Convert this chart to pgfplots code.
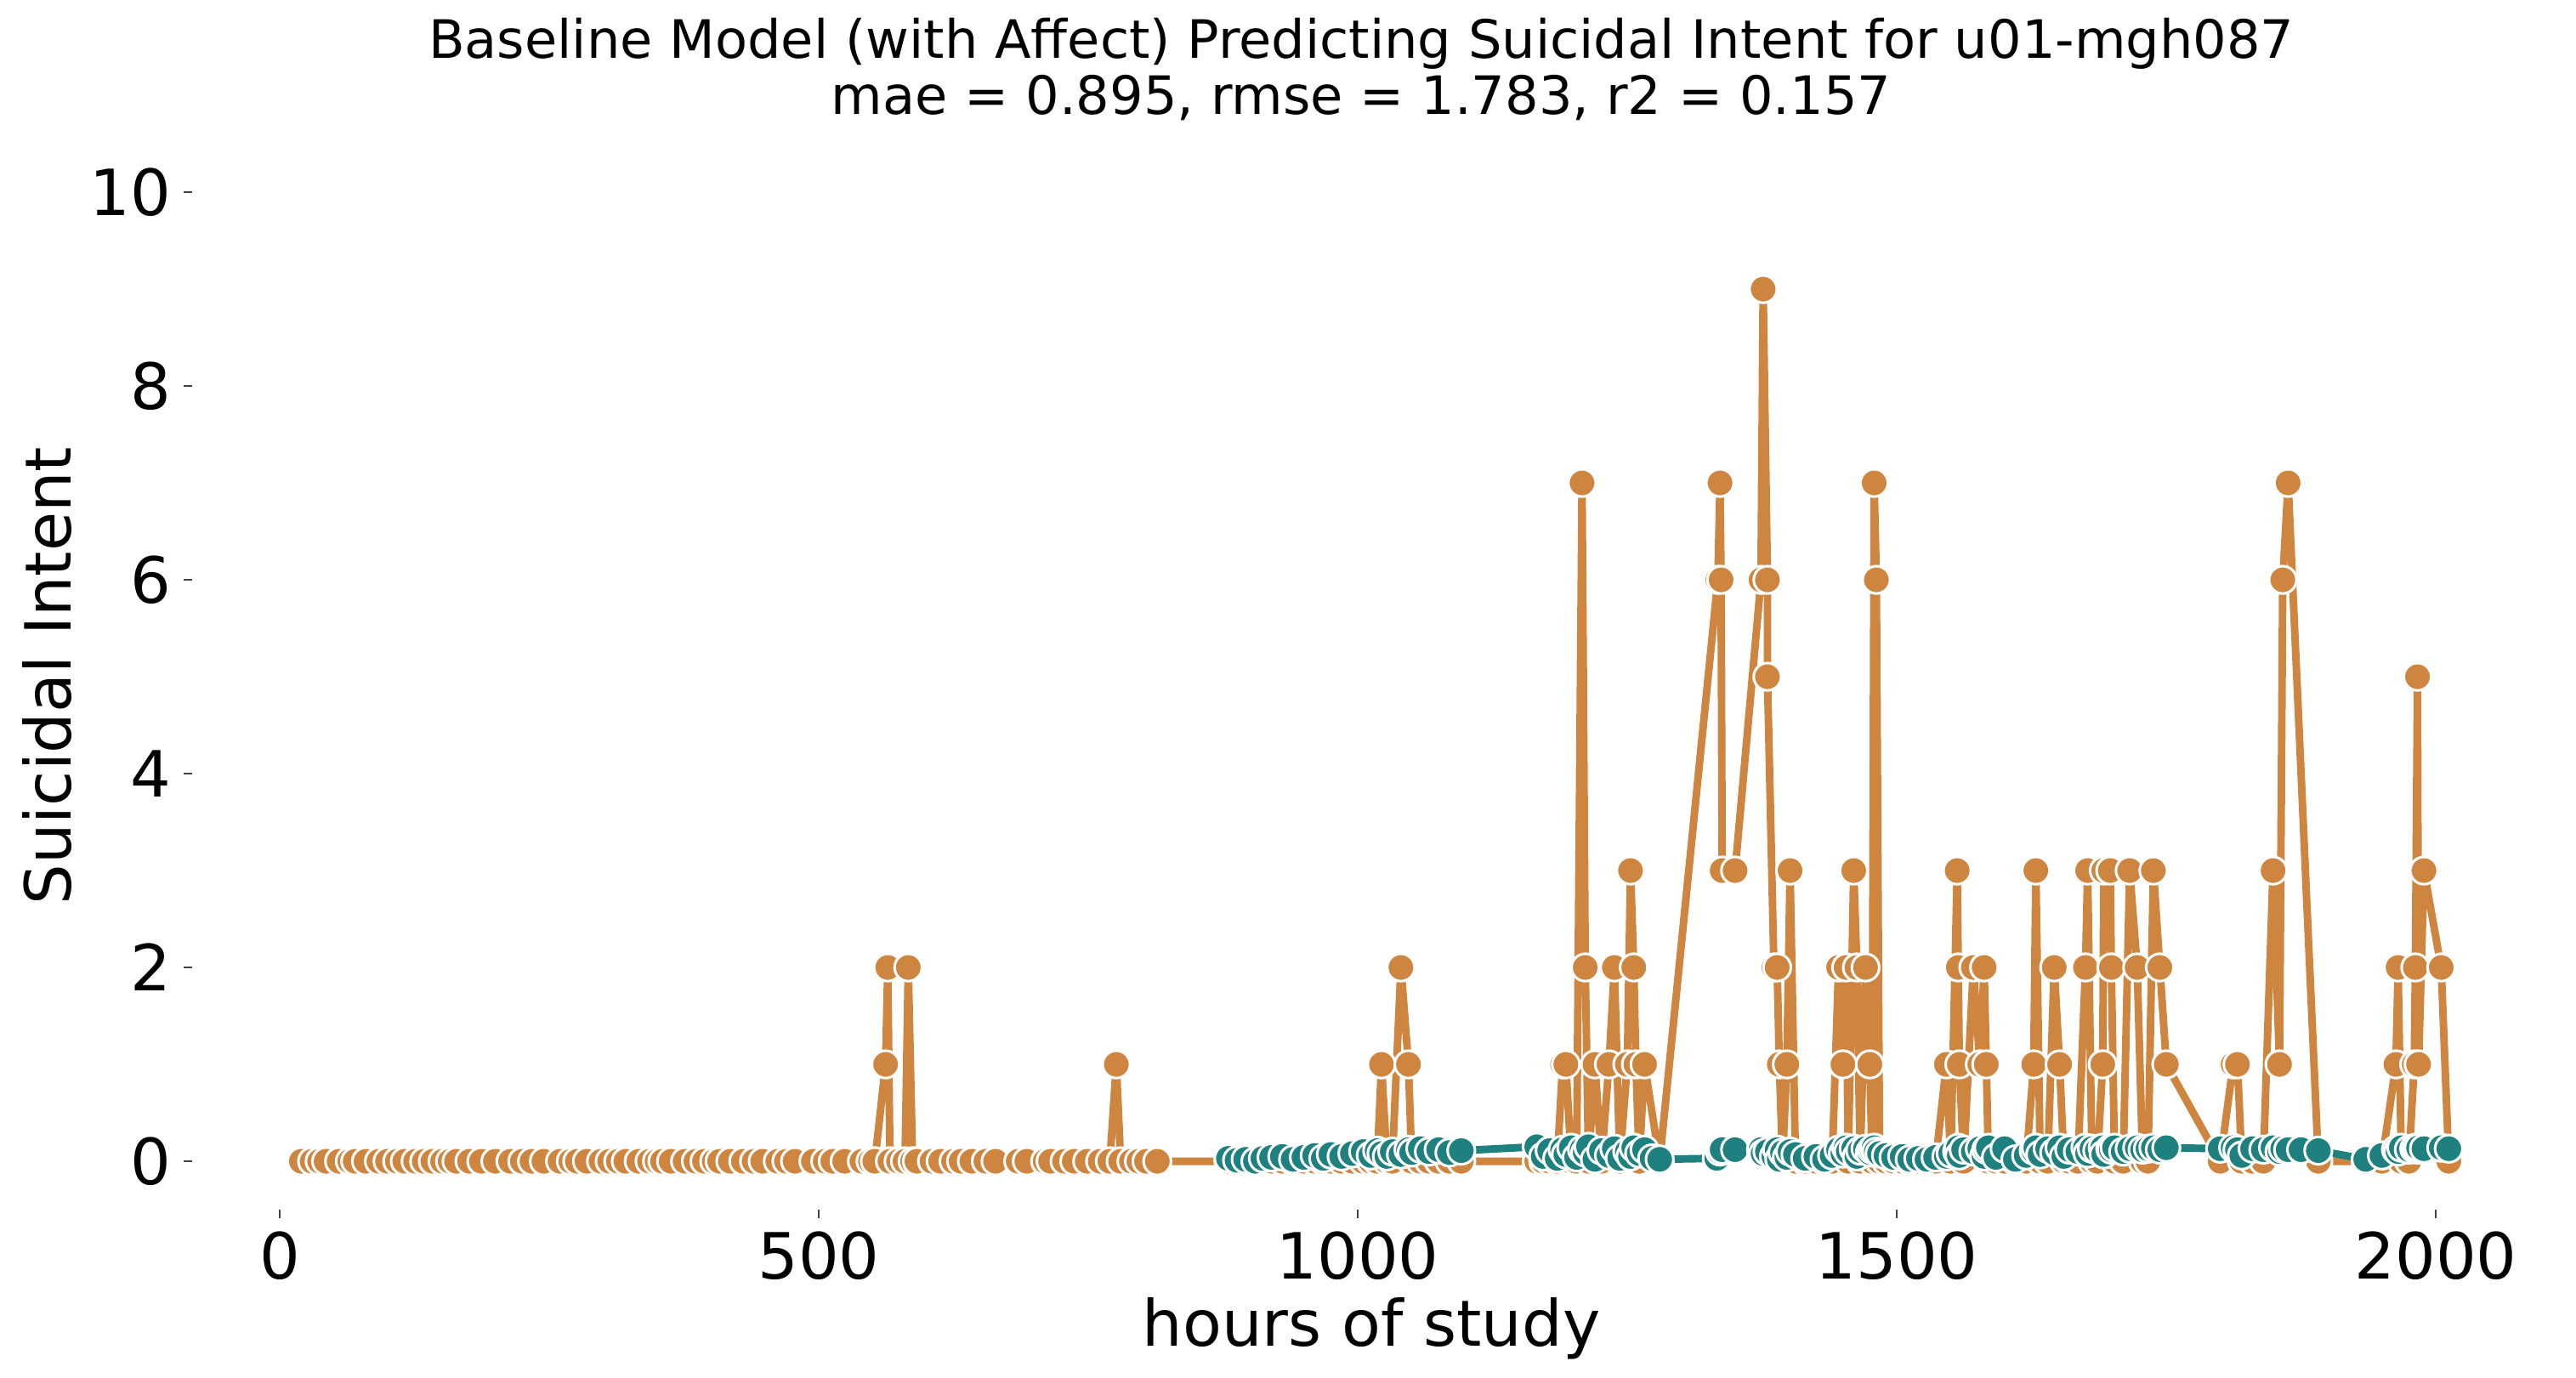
\documentclass[border=0pt]{standalone}
\usepackage{pgfplots}
\pgfplotsset{compat=1.18}
\usepackage{fontspec}
\setmainfont{DejaVu Sans}
\definecolor{actc}{RGB}{205,133,63}
\definecolor{predc}{RGB}{31,128,128}
\begin{document}
\begin{tikzpicture}
\path[use as bounding box] (0,0) rectangle (1090.8pt,583.2pt);
\begin{axis}[
  at={(81.4pt,70.9pt)}, anchor=south west,
  scale only axis, width=1000.8pt, height=430.9pt,
  xmin=-81.2, xmax=2111.2, ymin=-0.5, ymax=10,
  axis x line*=bottom, axis y line*=left,
  axis line style={draw=none},
  xtick={0,500,1000,1500,2000}, ytick={0,2,4,6,8,10},
  tick align=outside, major tick length=3.6pt,
  every tick/.style={draw=black!75, line width=0.5pt},
  tick label style={font=\fontsize{27}{32}\selectfont},
  /pgf/number format/assume math mode=true,
  /pgf/number format/set thousands separator={},
  xticklabel style={yshift=-2pt},
  yticklabel style={xshift=-2pt},
  clip=false,
]
\addplot[actc, line width=3.2pt, line join=round, mark=*, mark size=5.8pt,
  mark options={fill=actc, draw=white, line width=1.1pt}] coordinates {
(20,0)(30,0)(37,0)(43,0)(55,0)(65,0)(70,0)(80,0)(92,0)(100,0)(109,0)(116,0)(126,0)(134,0)(142,0)(151,0)(158,0)(164,0)(176,0)(187,0)(200,0)(214,0)(225,0)(234,0)(245,0)(260,0)(270,0)(276,0)(285,0)(298,0)(306,0)(314,0)(321,0)(333,0)(343,0)(350,0)(355,0)(363,0)(376,0)(386,0)(394,0)(403,0)(408,0)(418,0)(430,0)(440,0)(448,0)(462,0)(470,0)(478,0)(495,0)(506,0)(513,0)(524,0)(540,0)(548,0)(552,0)(562,1)(564,2)(566,0)(574,0)(580,0)(583,2)(587,0)(591,0)(605,0)(613,0)(625,0)(632,0)(642,0)(655,0)(664,0)(685,0)(693,0)(710,0)(715,0)(728,0)(737,0)(749,0)(761,0)(770,0)(776,1)(780,0)(790,0)(797,0)(804,0)(814,0)
(880,0)(888,0)(896,0)(905,0)(912,0)(920,0)(930,0)(940,0)(950,0)(960,0)(968,0)(975,0)(985,0)(995,0)(1005,0)(1012,0)(1018,0)(1022,1)(1027,0)(1032,0)(1040,2)(1047,1)(1050,0)(1058,0)(1066,0)(1075,0)(1085,0)(1096,0)(1166,0)(1172,0)(1178,0)(1185,0)(1190,1)(1193,1)(1198,0)(1203,0)(1208,7)(1211,2)(1214,0)(1220,1)(1226,0)(1233,1)(1238,2)(1243,0)(1250,1)(1253,3)(1256,2)(1258,1)(1261,0)(1266,1)(1280,0)(1334,6)(1336,7)(1337,6)(1338,3)(1350,3)(1374,6)(1376,9)(1380,6)(1380,5)(1386,2)(1389,2)(1391,1)(1394,0)(1398,1)(1401,3)(1406,0)(1415,0)(1425,0)(1433,0)(1440,0)(1446,2)(1450,1)(1453,2)(1455,0)(1460,3)(1463,2)(1466,0)(1471,2)(1475,1)(1477,0)(1479,7)(1481,6)(1484,0)(1490,0)(1497,0)(1505,0)(1512,0)(1520,0)(1528,0)(1536,0)(1546,1)(1550,0)(1556,3)(1557,2)(1558,1)(1562,0)(1571,2)(1577,1)(1581,2)(1583,1)(1585,0)(1592,0)(1600,0)(1610,0)(1620,0)(1627,1)(1629,3)(1633,0)(1640,0)(1646,2)(1651,1)(1655,0)(1660,0)(1668,0)(1675,2)(1677,3)(1681,0)(1686,0)(1691,1)(1692,3)(1698,3)(1699,2)(1702,0)(1710,0)(1716,3)(1723,2)(1728,0)(1733,0)(1738,3)(1744,2)(1750,1)(1800,0)(1812,1)(1816,1)(1820,0)(1830,0)(1840,0)(1849,3)(1855,1)(1858,6)(1863,7)(1891,0)(1935,0)(1950,0)(1963,1)(1965,2)(1968,0)(1975,0)(1980,1)(1981,2)(1983,5)(1984,1)(1989,3)(2005,2)(2012,0)
};
\addplot[predc, line width=3.2pt, line join=round, mark=*, mark size=5.8pt,
  mark options={fill=predc, draw=white, line width=1.1pt}] coordinates {
(880,0.03)(888,0.01)(896,0.02)(905,0.0)(912,0.03)(920,0.04)(930,0.05)(940,0.02)(950,0.04)(960,0.06)(968,0.03)(975,0.07)(985,0.05)(995,0.08)(1005,0.1)(1012,0.06)(1018,0.11)(1022,0.08)(1027,0.05)(1032,0.1)(1040,0.07)(1047,0.12)(1050,0.09)(1058,0.13)(1066,0.1)(1075,0.12)(1085,0.09)(1096,0.11)(1166,0.15)(1172,0.05)(1178,0.11)(1185,0.03)(1190,0.12)(1193,0.07)(1198,0.14)(1203,0.04)(1208,0.12)(1211,0.09)(1214,0.15)(1220,0.02)(1226,0.11)(1233,0.06)(1238,0.13)(1243,0.03)(1250,0.1)(1253,0.05)(1256,0.14)(1261,0.08)(1266,0.12)(1273,0.03)(1280,0.02)(1333,0.03)(1336,0.1)(1338,0.12)(1350,0.12)(1374,0.12)(1376,0.08)(1380,0.1)(1386,0.05)(1389,0.12)(1391,0.02)(1394,0.09)(1398,0.04)(1401,0.1)(1406,0.07)(1415,0.03)(1425,0.05)(1433,0.02)(1440,0.06)(1446,0.12)(1450,0.08)(1453,0.14)(1455,0.1)(1460,0.13)(1463,0.05)(1466,0.11)(1471,0.13)(1475,0.09)(1477,0.12)(1479,0.14)(1481,0.1)(1484,0.08)(1490,0.06)(1497,0.04)(1505,0.05)(1512,0.02)(1520,0.03)(1528,0.02)(1536,0.04)(1546,0.05)(1550,0.08)(1556,0.1)(1557,0.14)(1558,0.06)(1562,0.12)(1571,0.1)(1577,0.13)(1581,0.05)(1583,0.12)(1585,0.14)(1592,0.04)(1600,0.13)(1610,0.02)(1620,0.06)(1627,0.11)(1629,0.14)(1633,0.07)(1640,0.13)(1646,0.09)(1651,0.14)(1655,0.05)(1660,0.12)(1668,0.1)(1675,0.14)(1677,0.08)(1681,0.13)(1686,0.11)(1691,0.14)(1692,0.07)(1698,0.13)(1699,0.12)(1702,0.14)(1710,0.1)(1716,0.13)(1723,0.14)(1728,0.12)(1733,0.13)(1738,0.14)(1744,0.12)(1750,0.14)(1800,0.13)(1812,0.14)(1816,0.12)(1820,0.06)(1830,0.13)(1840,0.12)(1849,0.14)(1855,0.1)(1858,0.13)(1863,0.12)(1875,0.12)(1891,0.11)(1935,0.02)(1950,0.06)(1963,0.12)(1965,0.1)(1968,0.14)(1975,0.12)(1980,0.13)(1981,0.14)(1983,0.12)(1984,0.14)(1989,0.13)(2005,0.14)(2012,0.13)
};
\end{axis}
\node[anchor=base, font=\fontsize{22.4}{26}\selectfont] at (576.4pt,558.7pt) {Baseline Model (with Affect) Predicting Suicidal Intent for u01-mgh087};
\node[anchor=base, font=\fontsize{22.4}{26}\selectfont] at (576.4pt,534.6pt) {mae = 0.895, rmse = 1.783, r2 = 0.157};
\node[anchor=base, font=\fontsize{27}{32}\selectfont] at (580.7pt,13pt) {hours of study};
\node[anchor=base, rotate=90, font=\fontsize{27}{32}\selectfont] at (30pt,297pt) {Suicidal Intent};
\end{tikzpicture}
\end{document}
